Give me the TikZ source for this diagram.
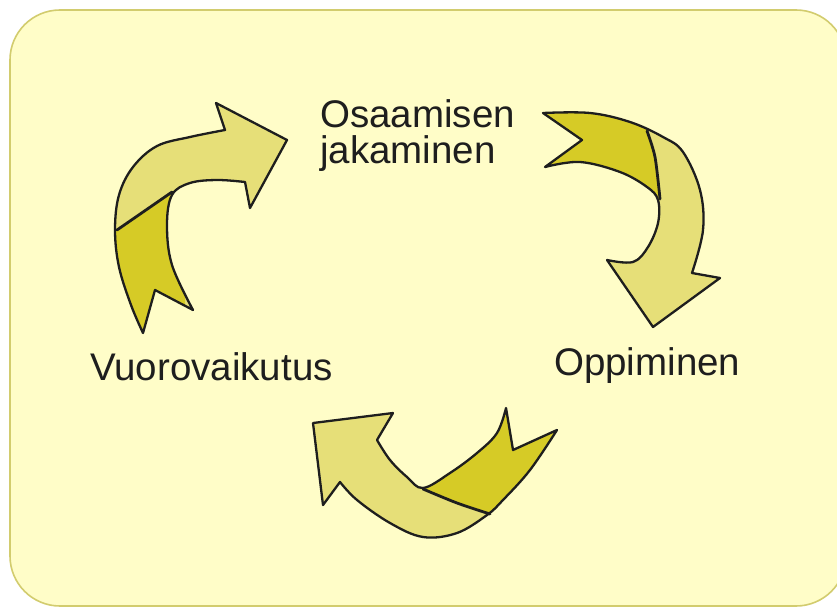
\documentclass[tikz,border=0pt]{standalone}
\usepackage{fontspec}
\setmainfont{Liberation Sans}
\definecolor{bgfill}{HTML}{FFFDC8}
\definecolor{bgline}{HTML}{D2CC6E}
\definecolor{arrlight}{HTML}{E6DF78}
\definecolor{arrdark}{HTML}{D6CB26}
\definecolor{inkc}{HTML}{1E1E1E}
\tikzset{
  lbl/.style={font=\fontsize{38.5}{36}\selectfont, text=inkc, inner sep=0pt, align=left},
  arrowbody/.style={fill=arrlight},
  arrowedge/.style={draw=inkc, line width=2.3pt, line join=round},
  foldline/.style={draw=inkc, line width=2.8pt, line cap=round},
}
\begin{document}
\begin{tikzpicture}[x=1pt,y=-1pt]
\useasboundingbox (0,0) rectangle (837,610);
\fill[white] (0,0) rectangle (837,610);
\begin{scope}
\clip (0,0) rectangle (837,610);
\draw[fill=bgfill, draw=bgline, line width=1.6pt, rounded corners=50pt] (10,10) rectangle (846,606);
\end{scope}

% Arrow 1: Vuorovaikutus -> Osaamisen jakaminen
\def\arrowA{(287,140) -- (250,208) -- (245,182)
  -- plot[smooth, tension=0.6] coordinates {(245,182) (217,180) (190,183) (172,195) (167,225) (172,265) (193,310)}
  -- (155,290) -- (143,333)
  -- plot[smooth, tension=0.6] coordinates {(143,333) (131,305) (119,267) (115,230) (119,195) (133,167) (157,146) (190,137) (225,130)}
  -- (216,103) -- cycle}
\fill[arrowbody] \arrowA;
\begin{scope}
\clip \arrowA;
\fill[arrdark] (80,256) -- (175,190) -- (185,190) -- (185,400) -- (80,400) -- cycle;
\end{scope}
\draw[foldline] (117,230) -- (172,192);
\draw[arrowedge] \arrowA;

% Arrow 2: Osaamisen jakaminen -> Oppiminen
\def\arrowB{(543,113)
  -- plot[smooth, tension=0.6] coordinates {(543,113) (590,113) (630,122) (663,137) (683,152) (700,190) (703,230) (692,273)}
  -- (720,278) -- (653,327) -- (607,260)
  -- plot[smooth, tension=0.6] coordinates {(607,260) (633,262) (648,247) (658,223) (658,200) (647,187) (620,172) (580,162) (545,167)}
  -- (582,140) -- cycle}
\fill[arrowbody] \arrowB;
\begin{scope}
\clip \arrowB;
\fill[arrdark] (500,80) -- (642,100) -- (647,132) -- (655,157) -- (660,200) -- (600,210) -- (500,215) -- cycle;
\end{scope}
\draw[foldline] plot[smooth] coordinates {(647,131) (655,157) (660,199)};
\draw[arrowedge] \arrowB;

% Arrow 3: Oppiminen -> Vuorovaikutus
\def\arrowC{(313,423) -- (393,413) -- (377,440)
  -- plot[smooth, tension=0.6] coordinates {(377,440) (390,460) (407,477) (423,488) (450,473) (477,453) (497,433) (506,408)}
  -- (513,450) -- (557,430)
  -- plot[smooth, tension=0.6] coordinates {(557,430) (530,470) (503,500) (487,515) (457,533) (423,537) (390,523) (357,500) (340,482)}
  -- (323,505) -- cycle}
\fill[arrowbody] \arrowC;
\begin{scope}
\clip \arrowC;
\fill[arrdark] (420,488) -- (457,503) -- (495,516) -- (600,560) -- (600,380) -- (420,380) -- cycle;
\end{scope}
\draw[foldline] plot[smooth] coordinates {(423,489) (457,503) (490,514)};
\draw[arrowedge] \arrowC;

% Labels
\node[lbl, anchor=base west] (osa) at (320,163) {Osaamisen\\jakaminen};
\node[lbl, anchor=base west] (vuo) at (90,380) {Vuorovaikutus};
\node[lbl, anchor=base west] (opp) at (554,375) {Oppiminen};
\end{tikzpicture}
\end{document}
